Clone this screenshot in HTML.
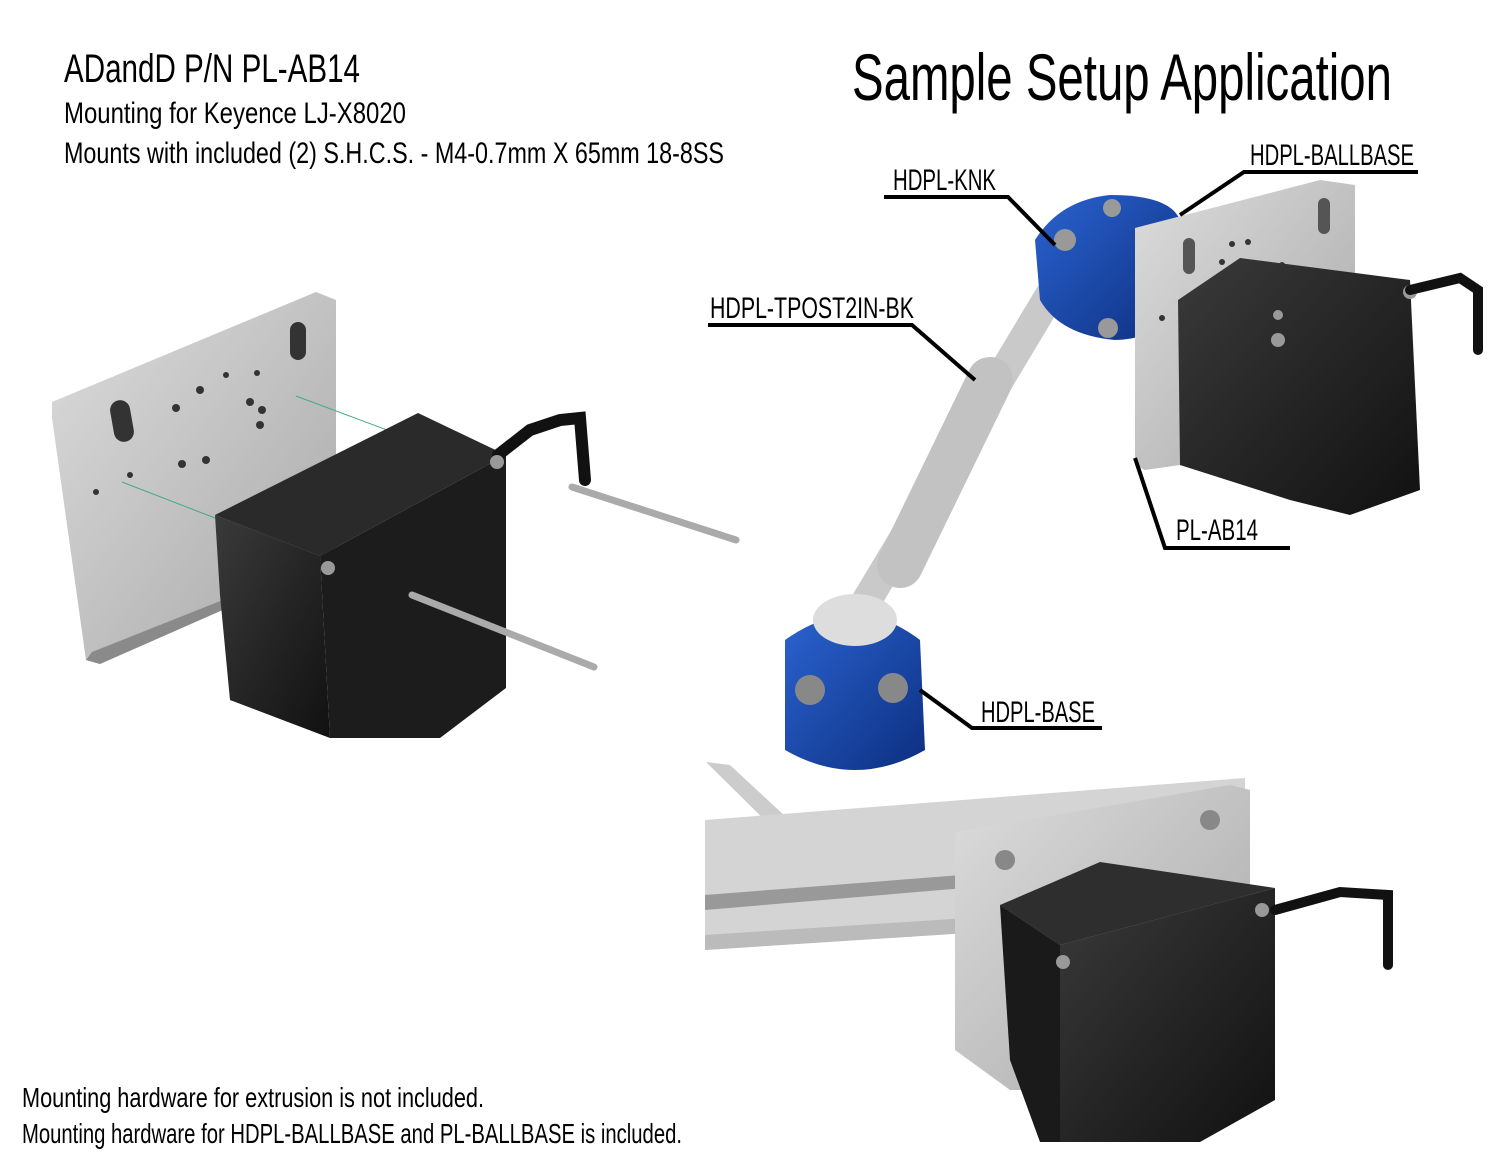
<!DOCTYPE html>
<html><head><meta charset="utf-8"><style>
html,body{margin:0;padding:0;background:#fff;}
svg text{font-family:"Liberation Sans Narrow","Liberation Sans",sans-serif;fill:#000;}
</style></head><body>
<svg width="1500" height="1159" viewBox="0 0 1500 1159" xmlns="http://www.w3.org/2000/svg">
<defs>
<linearGradient id="pl" x1="0" y1="0" x2="1" y2="1"><stop offset="0" stop-color="#dcdcdc"/><stop offset="1" stop-color="#a8a8a8"/></linearGradient>
<linearGradient id="bk" x1="0" y1="0" x2="1" y2="1"><stop offset="0" stop-color="#3a3a3a"/><stop offset="1" stop-color="#111"/></linearGradient>
<linearGradient id="bl" x1="0" y1="0" x2="1" y2="1"><stop offset="0" stop-color="#2b63d0"/><stop offset="1" stop-color="#0c2f80"/></linearGradient>
</defs>

<text x="64" y="82" font-size="40" textLength="296" lengthAdjust="spacingAndGlyphs">ADandD P/N PL-AB14</text>
<text x="64" y="123" font-size="30" textLength="342" lengthAdjust="spacingAndGlyphs">Mounting for Keyence LJ-X8020</text>
<text x="64" y="163" font-size="30" textLength="660" lengthAdjust="spacingAndGlyphs">Mounts with included (2) S.H.C.S. - M4-0.7mm X 65mm 18-8SS</text>
<text x="852" y="100" font-size="66" textLength="540" lengthAdjust="spacingAndGlyphs">Sample Setup Application</text>
<text x="22" y="1107" font-size="28" textLength="462" lengthAdjust="spacingAndGlyphs">Mounting hardware for extrusion is not included.</text>
<text x="22" y="1143" font-size="28" textLength="660" lengthAdjust="spacingAndGlyphs">Mounting hardware for HDPL-BALLBASE and PL-BALLBASE is included.</text>

<!-- LEFT -->
<polygon points="52,402 316,292 336,300 336,560 100,664 86,660 52,418" fill="url(#pl)"/>
<polygon points="86,660 100,664 336,560 336,555 92,652" fill="#8a8a8a"/>
<rect x="112" y="400" width="20" height="42" rx="10" fill="#333" transform="rotate(-10 122 421)"/>
<rect x="290" y="322" width="16" height="38" rx="8" fill="#333"/>
<g fill="#333"><circle cx="200" cy="390" r="4"/><circle cx="176" cy="408" r="4"/><circle cx="250" cy="402" r="4"/><circle cx="262" cy="410" r="4"/><circle cx="260" cy="425" r="4"/><circle cx="182" cy="464" r="4"/><circle cx="206" cy="460" r="4"/><circle cx="130" cy="475" r="3"/><circle cx="96" cy="492" r="3"/><circle cx="257" cy="373" r="3"/><circle cx="226" cy="375" r="3"/></g>
<line x1="122" y1="482" x2="215" y2="518" stroke="#4a8" stroke-width="1"/>
<line x1="296" y1="396" x2="494" y2="470" stroke="#4a8" stroke-width="1"/>
<line x1="322" y1="560" x2="412" y2="595" stroke="#4a8" stroke-width="1"/>
<polygon points="215,515 418,413 506,455 320,556" fill="#2a2a2a"/>
<polygon points="215,515 320,556 330,738 230,700 220,595" fill="url(#bk)"/>
<polygon points="320,556 506,455 506,688 440,738 330,738" fill="#1c1c1c"/>
<path d="M498,455 L530,430 L560,420 L580,418 L585,480" stroke="#111" stroke-width="12" fill="none" stroke-linecap="round"/>
<circle cx="497" cy="462" r="7" fill="#999"/><circle cx="328" cy="568" r="7" fill="#999"/>
<line x1="412" y1="595" x2="594" y2="667" stroke="#aaa" stroke-width="7" stroke-linecap="round"/>
<line x1="572" y1="487" x2="736" y2="540" stroke="#aaa" stroke-width="7" stroke-linecap="round"/>

<!-- RIGHT top -->
<line x1="855" y1="620" x2="1050" y2="295" stroke="#c9c9c9" stroke-width="30" stroke-linecap="round"/>
<line x1="900" y1="565" x2="990" y2="380" stroke="#c2c2c2" stroke-width="46" stroke-linecap="round"/>
<path d="M785,640 Q855,590 920,640 L925,750 Q855,790 785,750 Z" fill="url(#bl)"/>
<ellipse cx="855" cy="620" rx="42" ry="26" fill="#ddd"/>
<circle cx="810" cy="690" r="15" fill="#888"/><circle cx="893" cy="688" r="15" fill="#888"/>
<path d="M1035,240 Q1060,200 1110,195 Q1170,195 1180,220 L1180,300 Q1160,340 1115,340 Q1060,335 1040,300 Z" fill="url(#bl)"/>
<circle cx="1065" cy="240" r="11" fill="#999"/><circle cx="1112" cy="208" r="9" fill="#999"/><circle cx="1108" cy="328" r="10" fill="#999"/>
<polygon points="1135,228 1320,180 1355,185 1355,440 1145,470 1135,465" fill="url(#pl)"/>
<rect x="1183" y="238" width="12" height="36" rx="6" fill="#555"/><rect x="1318" y="198" width="12" height="36" rx="6" fill="#555"/>
<g fill="#333"><circle cx="1232" cy="244" r="3"/><circle cx="1248" cy="242" r="3"/><circle cx="1222" cy="262" r="3"/><circle cx="1282" cy="265" r="3"/><circle cx="1162" cy="318" r="3"/></g>
<polygon points="1178,300 1240,258 1410,280 1420,490 1350,515 1290,500 1180,465" fill="url(#bk)"/>
<circle cx="1410" cy="292" r="7" fill="#999"/><circle cx="1278" cy="340" r="7" fill="#999"/><circle cx="1278" cy="315" r="5" fill="#999"/>
<path d="M1410,290 L1460,278 L1478,290 L1478,350" stroke="#111" stroke-width="10" fill="none" stroke-linecap="round"/>

<g stroke="#000" stroke-width="4" fill="none">
<polyline points="884,197 1008,197 1055,245"/>
<polyline points="1418,172 1244,172 1180,215"/>
<polyline points="708,325 912,325 975,380"/>
<polyline points="1290,548 1165,548 1135,458"/>
<polyline points="1102,728 972,728 920,690"/>
</g>
<text x="893" y="190" font-size="30" textLength="103" lengthAdjust="spacingAndGlyphs">HDPL-KNK</text>
<text x="1250" y="165" font-size="30" textLength="164" lengthAdjust="spacingAndGlyphs">HDPL-BALLBASE</text>
<text x="710" y="318" font-size="30" textLength="204" lengthAdjust="spacingAndGlyphs">HDPL-TPOST2IN-BK</text>
<text x="1176" y="540" font-size="30" textLength="82" lengthAdjust="spacingAndGlyphs">PL-AB14</text>
<text x="981" y="722" font-size="30" textLength="114" lengthAdjust="spacingAndGlyphs">HDPL-BASE</text>

<!-- bottom -->
<polygon points="706,762 730,765 800,830 780,835" fill="#ccc"/>
<polygon points="705,820 1245,778 1245,915 705,950" fill="#d4d4d4"/>
<polygon points="705,895 1000,872 1000,885 705,910" fill="#999"/>
<polygon points="705,935 1245,900 1245,915 705,950" fill="#bbb"/>
<polygon points="955,832 1230,785 1250,790 1250,1090 1010,1090 955,1050" fill="url(#pl)"/>
<polygon points="1000,905 1100,862 1275,888 1060,945" fill="#2e2e2e"/>
<polygon points="1000,905 1060,945 1060,1142 1040,1142 1010,1060" fill="#1a1a1a"/>
<polygon points="1060,945 1275,888 1275,1100 1200,1142 1060,1142" fill="url(#bk)"/>
<circle cx="1005" cy="860" r="10" fill="#888"/><circle cx="1210" cy="820" r="10" fill="#888"/>
<circle cx="1063" cy="962" r="7" fill="#999"/><circle cx="1262" cy="910" r="7" fill="#999"/>
<path d="M1275,910 L1340,892 L1388,895 L1388,965" stroke="#111" stroke-width="10" fill="none" stroke-linecap="round"/>
</svg>
</body></html>
